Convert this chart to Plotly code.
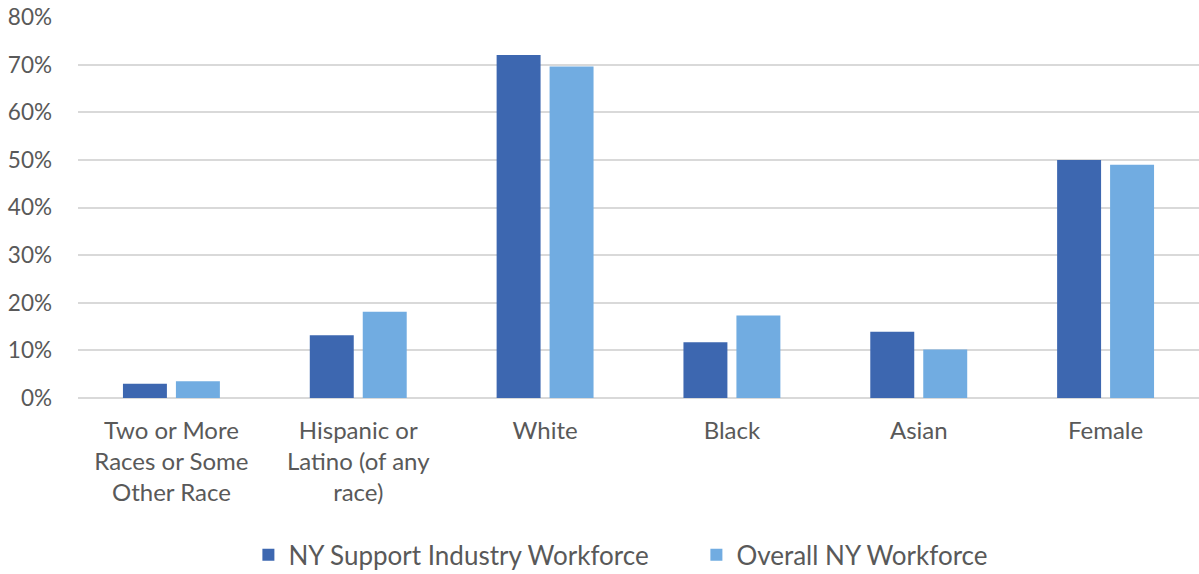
import plotly.graph_objects as go

categories = ["Two or More<br>Races or Some<br>Other Race", "Hispanic or<br>Latino (of any<br>race)",
              "White", "Black", "Asian", "Female"]
support_industry = [3.0, 13.2, 72.0, 11.7, 13.9, 50.0]
overall_ny = [3.5, 18.1, 69.6, 17.3, 10.2, 49.0]
tick_vals = [0, 10, 20, 30, 40, 50, 60, 70, 80]
tick_text = ["0%", "10%", "20%", "30%", "40%", "50%", "60%", "70%", "80%"]

FONT = "Lato"
GRAY = "#595959"

fig = go.Figure()
fig.add_trace(go.Bar(x=categories, y=support_industry, name="NY Support Industry Workforce",
                     marker=dict(color="#3D67B0", line=dict(width=0))))
fig.add_trace(go.Bar(x=categories, y=overall_ny, name="Overall NY Workforce",
                     marker=dict(color="#71ACE1", line=dict(width=0))))

fig.update_layout(
    width=1199, height=574,
    margin=dict(l=78, r=0, t=17, b=176, autoexpand=False),
    paper_bgcolor="white", plot_bgcolor="white",
    barmode="group", bargap=0.433, bargroupgap=0.17,
    font=dict(family=FONT, color=GRAY, size=22),
    showlegend=True,
    legend=dict(orientation="h", x=0.152, xanchor="left", y=-0.412, yanchor="middle",
                font=dict(size=26, color=GRAY), itemwidth=30, traceorder="normal",
                entrywidth=403, entrywidthmode="pixels", tracegroupgap=0),
    xaxis=dict(showgrid=False, showline=False, zeroline=False, ticks="",
               ticklabelstandoff=16, automargin=False,
               tickfont=dict(size=24, color=GRAY)),
    yaxis=dict(range=[0, 80], tickvals=tick_vals, ticktext=tick_text,
               showgrid=True, gridcolor="#D9D9D9", gridwidth=1.5,
               zeroline=True, zerolinecolor="#D9D9D9", zerolinewidth=1.5,
               showline=False, ticks="", ticklabelstandoff=25, automargin=False,
               tickfont=dict(size=22.5, color=GRAY)),
)

fig.write_html("out.html")
